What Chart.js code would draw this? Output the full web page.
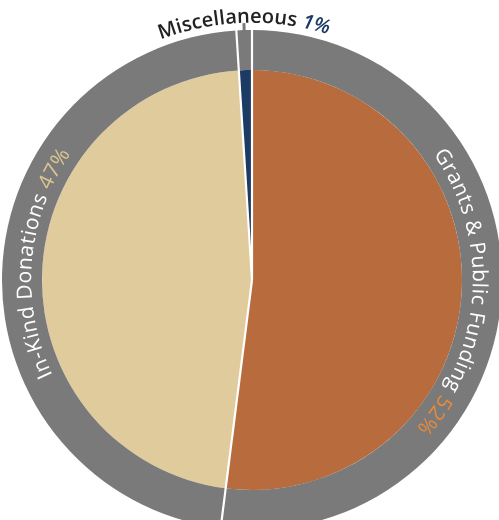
<!DOCTYPE html>
<html>
<head>
<meta charset="utf-8">
<script src="https://cdn.jsdelivr.net/npm/chart.js@4"></script>
<style>
  html, body { margin: 0; padding: 0; background: #fff; overflow: hidden; }
  #wrap { position: absolute; left: 2px; top: 0; width: 500px; height: 560px; }
</style>
</head>
<body>
<div id="wrap"><canvas id="pie-chart"></canvas></div>
<script>
const categories = ['Grants & Public Funding', 'In-Kind Donations', 'Miscellaneous'];
const shares = [52, 47, 1];
const sliceColors = ['#b86b3c', '#dfcb9c', '#1b3a64'];
const pctColors = ['#e88a3a', '#dcc591', '#1b3a64'];
const ringColor = '#7a7a7a';

// draws text along a circle, clockwise, tops facing outward
function arcText(ctx, cx, cy, r, mid, parts, spacing) {
  let total = 0;
  parts.forEach(p => {
    ctx.font = p.font;
    p.w = 0;
    for (const ch of p.text) p.w += ctx.measureText(ch).width + spacing;
    total += p.w;
  });
  let a = mid - total / r / 2;
  ctx.textAlign = 'center';
  ctx.textBaseline = 'middle';
  parts.forEach(p => {
    ctx.font = p.font;
    ctx.fillStyle = p.color;
    for (const ch of p.text) {
      let cw = ctx.measureText(ch).width + spacing;
      let ang = a + cw / r / 2;
      ctx.save();
      ctx.translate(cx, cy);
      ctx.rotate(ang);
      ctx.fillText(ch, 0, -r);
      ctx.restore();
      a += cw / r;
    }
  });
}

const ringLabels = {
  id: 'ringLabels',
  afterDatasetsDraw(chart) {
    const ctx = chart.ctx;
    const ring = chart.getDatasetMeta(0).data;
    const pie = chart.getDatasetMeta(1).data;
    const cx = ring[0].x, cy = ring[0].y;
    const outer = ring[0].outerRadius, inner = ring[0].innerRadius;

    ctx.save();
    // white separators through pie and ring
    ctx.strokeStyle = '#fff';
    ctx.lineWidth = 2.2;
    pie.forEach(arc => {
      ctx.beginPath();
      ctx.moveTo(cx, cy);
      ctx.lineTo(cx + Math.cos(arc.startAngle) * (outer + 2), cy + Math.sin(arc.startAngle) * (outer + 2));
      ctx.stroke();
    });

    // leader tick for the small slice
    const small = ring[2];
    const ma = (small.startAngle + small.endAngle) / 2;
    ctx.strokeStyle = ringColor;
    ctx.lineWidth = 3;
    ctx.beginPath();
    ctx.moveTo(cx + Math.cos(ma) * (outer - 1), cy + Math.sin(ma) * (outer - 1));
    ctx.lineTo(cx + Math.cos(ma) * (outer + 7), cy + Math.sin(ma) * (outer + 7));
    ctx.stroke();

    const tr = inner + (outer - inner) * 0.42;
    const midOf = arc => (arc.startAngle + arc.endAngle) / 2 + Math.PI / 2;
    const f = '21px "Open Sans"';
    arcText(ctx, cx, cy, tr, midOf(ring[0]), [
      { text: categories[0] + ' ', color: '#fff', font: f },
      { text: shares[0] + '%', color: pctColors[0], font: f }
    ], 0.8);
    arcText(ctx, cx, cy, tr, midOf(ring[1]) + 0.05, [
      { text: categories[1] + ' ', color: '#fff', font: f },
      { text: shares[1] + '%', color: pctColors[1], font: f }
    ], 0.8);
    arcText(ctx, cx, cy, outer + 13, midOf(ring[2]), [
      { text: categories[2] + ' ', color: '#222', font: '600 20px "Open Sans"' },
      { text: shares[2] + '%', color: pctColors[2], font: 'italic 600 20px "Open Sans"' }
    ], 0.3);
    ctx.restore();
  }
};

new Chart(document.getElementById('pie-chart'), {
  type: 'doughnut',
  data: {
    labels: categories,
    datasets: [
      { data: shares, backgroundColor: ringColor, borderWidth: 0, weight: 40 },
      { data: shares, backgroundColor: sliceColors, borderWidth: 0, weight: 210 }
    ]
  },
  options: {
    responsive: true,
    maintainAspectRatio: false,
    animation: false,
    cutout: 0,
    plugins: { legend: { display: false }, tooltip: { enabled: false } },
    layout: { padding: 0 }
  },
  plugins: [ringLabels]
});
</script>
</body>
</html>
